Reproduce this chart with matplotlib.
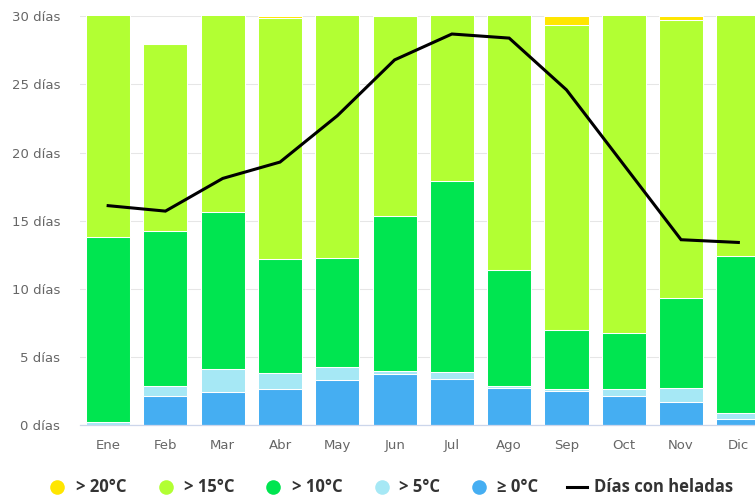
import matplotlib
matplotlib.use("Agg")
import matplotlib.pyplot as plt
from matplotlib.lines import Line2D
import numpy as np

months = ["Ene", "Feb", "Mar", "Abr", "May", "Jun", "Jul", "Ago", "Sep", "Oct", "Nov", "Dic"]
# days per month in each temperature band (stacked bottom -> top)
d_ge0 = [0.0, 2.15, 2.45, 2.64, 3.30, 3.77, 3.40, 2.75, 2.52, 2.15, 1.66, 0.42]
d_gt5 = [0.2, 0.73, 1.66, 1.17, 0.93, 0.19, 0.51, 0.13, 0.12, 0.52, 1.03, 0.46]
d_gt10 = [13.6, 11.38, 11.50, 8.34, 8.00, 11.37, 14.02, 8.49, 4.33, 4.10, 6.60, 11.54]
d_gt15 = [17.2, 13.74, 15.39, 17.70, 18.77, 14.67, 13.07, 19.63, 22.38, 24.23, 20.46, 18.58]
d_gt20 = [0.0, 0.0, 0.0, 0.15, 0.0, 0.0, 0.0, 0.0, 0.65, 0.0, 0.25, 0.0]
heladas = [16.1, 15.7, 18.1, 19.3, 22.7, 26.8, 28.7, 28.4, 24.6, 19.1, 13.6, 13.4]

series = [
    ("≥ 0°C", d_ge0, "#45aef2"),
    ("> 5°C", d_gt5, "#a6e8f5"),
    ("> 10°C", d_gt10, "#00e550"),
    ("> 15°C", d_gt15, "#b2ff33"),
    ("> 20°C", d_gt20, "#ffe600"),
]

W, H = 755, 500
fig = plt.figure(figsize=(W / 100, H / 100), dpi=100)
ax_left, ax_right = 79.5, 767.0
ax_top, ax_bot = 16.3, 425.0
ax = fig.add_axes([ax_left / W, 1 - ax_bot / H, (ax_right - ax_left) / W, (ax_bot - ax_top) / H])

x = np.arange(len(months))
bottom = np.zeros(len(months))
for name, vals, col in series:
    v = np.array(vals)
    ax.bar(x, v, width=0.77, bottom=bottom, color=col, edgecolor="white", linewidth=0.75, zorder=2)
    bottom += v

ax.plot(x, heladas, color="black", lw=2.2, zorder=4, solid_joinstyle="miter")

ax.set_xlim(-0.5, len(months) - 0.5)
ax.set_ylim(0, 30)
yt = [0, 5, 10, 15, 20, 25, 30]
ax.set_yticks(yt)
ax.set_yticklabels([f"{v} días" for v in yt])
ax.set_xticks(x)
ax.set_xticklabels(months)
ax.tick_params(axis="both", length=0, labelsize=9.5, labelcolor="#666666")
ax.tick_params(axis="y", pad=14)
ax.tick_params(axis="x", pad=10)
ax.grid(axis="y", color="#e6e6e6", lw=0.75, zorder=0)
ax.set_axisbelow(True)
for s in ["top", "right", "left"]:
    ax.spines[s].set_visible(False)
ax.spines["bottom"].set_color("#ccd6eb")
ax.spines["bottom"].set_linewidth(0.9)
ax.spines["bottom"].set_zorder(5)

# legend (manual layout)
ly = 1 - 487 / H
leg_items = [
    ("> 20°C", "#ffe600", 57, 76),
    ("> 15°C", "#b2ff33", 166, 184),
    ("> 10°C", "#00e550", 273, 292),
    ("> 5°C", "#a6e8f5", 382, 399),
    ("≥ 0°C", "#45aef2", 479, 497),
]
for label, col, dx, tx in leg_items:
    fig.add_artist(Line2D([dx / W], [ly], marker="o", markersize=10.5, color=col,
                          markeredgewidth=0, linestyle="none", transform=fig.transFigure))
    fig.text(tx / W, ly, label, fontsize=12, fontweight="bold", color="#333333",
             va="center", ha="left", family=["Open Sans", "DejaVu Sans"])
fig.add_artist(Line2D([567 / W, 587 / W], [ly, ly], color="black", lw=2.2, transform=fig.transFigure))
fig.text(594 / W, ly, "Días con heladas", fontsize=12, fontweight="bold", color="#333333",
         va="center", ha="left", family=["Open Sans", "DejaVu Sans"])

fig.savefig("out.png", dpi=100, facecolor="white")
